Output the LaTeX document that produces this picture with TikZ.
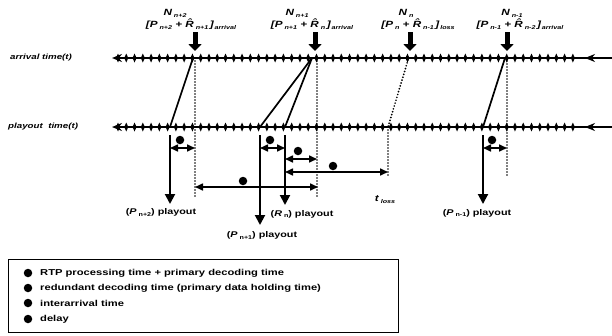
\documentclass[tikz,border=0pt]{standalone}
\usepackage{fontspec}
\setmainfont{Liberation Sans}
\newfontfamily\wf[FakeStretch=1.3]{Liberation Sans}
\usetikzlibrary{arrows.meta}
\newcommand\lsub[1]{\raisebox{-0.45ex}{\fontsize{5.5}{6}\selectfont #1}}
\newcommand\ttick[2]{\fill (#1-2,#2) -- (#1,#2-4.5) -- (#1+2,#2) -- (#1,#2+4.5) -- cycle;}
\begin{document}
\begin{tikzpicture}[x=1pt,y=-1pt,
  axisline/.style={line width=1.6pt,-{Stealth[length=10pt,width=8pt]}},
  bigarrow/.style={line width=5pt,-{Triangle[width=13pt,length=7pt]}},
  slant/.style={line width=1.7pt},
  dotline/.style={line width=1.9pt,line cap=round,dash pattern=on 0pt off 3pt},
  dimarrow/.style={line width=1.6pt,{Triangle[width=7pt,length=8pt]}-{Triangle[width=7pt,length=8pt]}},
  droparrow/.style={line width=2pt,-{Triangle[width=10pt,length=10pt]}},
  bigdot/.style={circle,fill,inner sep=0pt,minimum size=8.5pt},
  axlabel/.style={font=\wf\bfseries\itshape\fontsize{7.5}{8}\selectfont,anchor=west,inner sep=0pt},
  toplabel/.style={font=\wf\bfseries\itshape\fontsize{9}{10}\selectfont,inner sep=0pt},
  plabel/.style={font=\wf\bfseries\fontsize{8.3}{9}\selectfont,inner sep=0pt},
  legtext/.style={font=\wf\bfseries\fontsize{8.6}{9}\selectfont,anchor=west,inner sep=0pt}
]
\useasboundingbox (0,0) rectangle (612,335);

% axis lines
\coordinate (arrR) at (612,58); \coordinate (arrL) at (112,58);
\coordinate (plyR) at (612,127); \coordinate (plyL) at (112,127);
\draw[axisline] (arrR) -- (arrL);
\draw[axisline] (plyR) -- (plyL);
\coordinate (arrM1) at (600,58); \coordinate (arrM2) at (585,58);
\coordinate (plyM1) at (600,127); \coordinate (plyM2) at (585,127);
\draw[axisline] (arrM1) -- (arrM2);
\draw[axisline] (plyM1) -- (plyM2);
\foreach \i in {0,...,55}{
  \pgfmathsetmacro\xx{118+\i*8.27}
  \ttick{\xx}{58}
  \ttick{\xx}{127}
}
\node[axlabel] (lblarr) at (10,58) {arrival time(t)};
\node[axlabel] (lblply) at (8,127) {playout\ \ time(t)};

% top labels and arrows
\node[toplabel] (n1) at (175,13) {N\lsub{\ n+2}};
\node[toplabel] (b1) at (191,24) {[P\lsub{\ n+2} + \^{R}\lsub{\ n+1}\,]\lsub{\,arrival}};
\node[toplabel] (n2) at (297,13) {N\lsub{\ n+1}};
\node[toplabel] (b2) at (312,24) {[P\lsub{\ n+1} + \^{R}\lsub{\ n}\,]\lsub{\,arrival}};
\node[toplabel] (n3) at (406,13) {N\lsub{\ n}};
\node[toplabel] (b3) at (418,24) {[P\lsub{\ n} + \^{R}\lsub{\ n-1}\,]\lsub{\,loss}};
\node[toplabel] (n4) at (512,13) {N\lsub{\ n-1}};
\node[toplabel] (b4) at (520,24) {[P\lsub{\ n-1} + \^{R}\lsub{\ n-2}\,]\lsub{\,arrival}};
\foreach \x/\n in {195/1,315/2,410/3,507/4}{
  \coordinate (bt\n) at (\x,32);
  \coordinate (bb\n) at (\x,51);
  \draw[bigarrow] (bt\n) -- (bb\n);
}

% arrival/playout points
\coordinate (s1t) at (193,58); \coordinate (s1b) at (170,127);
\coordinate (s2t) at (312,58); \coordinate (s2a) at (260,127); \coordinate (s2b) at (285,127);
\coordinate (s3t) at (408,60); \coordinate (s3b) at (388,127);
\coordinate (s4t) at (505,58); \coordinate (s4b) at (483,127);
\draw[slant] (s1t) -- (s1b);
\draw[slant] (s2t) -- (s2a);
\draw[slant] (s2t) -- (s2b);
\draw[dotline] (s3t) -- (s3b);
\draw[slant] (s4t) -- (s4b);

% dotted verticals
\coordinate (d1t) at (195,58); \coordinate (d1b) at (195,198);
\coordinate (d2t) at (317,58); \coordinate (d2b) at (317,198);
\coordinate (d3b) at (388,177);
\coordinate (d4t) at (507,58); \coordinate (d4b) at (507,177);
\draw[dotline] (d1t) -- (d1b);
\draw[dotline] (d2t) -- (d2b);
\draw[dotline] (s3b) -- (d3b);
\draw[dotline] (d4t) -- (d4b);

% drop arrows
\coordinate (v1t) at (170,135); \coordinate (v1b) at (170,204);
\coordinate (v2t) at (260,135); \coordinate (v2b) at (260,225);
\coordinate (v3t) at (285,135); \coordinate (v3b) at (285,205);
\coordinate (v4t) at (483,135); \coordinate (v4b) at (483,204);
\draw[droparrow] (v1t) -- (v1b);
\draw[droparrow] (v2t) -- (v2b);
\draw[droparrow] (v3t) -- (v3b);
\draw[droparrow] (v4t) -- (v4b);

% dimension arrows and dots
\coordinate (m1a) at (170,148); \coordinate (m1b) at (195,148);
\coordinate (m2a) at (260,148); \coordinate (m2b) at (285,148);
\coordinate (m3a) at (285,159); \coordinate (m3b) at (317,159);
\coordinate (m4a) at (285,172); \coordinate (m4b) at (388,172);
\coordinate (m5a) at (195,187); \coordinate (m5b) at (318,187);
\coordinate (m6a) at (483,148); \coordinate (m6b) at (507,148);
\draw[dimarrow] (m1a) -- (m1b);
\draw[dimarrow] (m2a) -- (m2b);
\draw[dimarrow] (m3a) -- (m3b);
\draw[dimarrow] (m4a) -- (m4b);
\draw[dimarrow] (m5a) -- (m5b);
\draw[dimarrow] (m6a) -- (m6b);
\node[bigdot] (k1) at (180,140) {};
\node[bigdot] (k2) at (270,140) {};
\node[bigdot] (k3) at (298,151) {};
\node[bigdot] (k4) at (333,166) {};
\node[bigdot] (k5) at (243,181) {};
\node[bigdot] (k6) at (492,140) {};

% playout labels
\node[plabel] (pl1) at (161,212) {(\textit{P}\lsub{ n+2}) playout};
\node[plabel] (pl2) at (302,214) {(\textit{R}\lsub{ n}) playout};
\node[plabel] (pl3) at (262,235) {(\textit{P}\lsub{ n+1}) playout};
\node[plabel] (pl4) at (477,213) {(\textit{P}\lsub{ n-1}) playout};
\node[toplabel] (tl) at (385,200) {t\lsub{ loss}};

% legend
\node[draw,line width=1.2pt,minimum width=390pt,minimum height=73pt,anchor=north west,inner sep=0pt] (leg) at (8,259) {};
\foreach \y/\t/\n in {273/{RTP processing time + primary decoding time}/1,
                      288/{redundant decoding time (primary data holding time)}/2,
                      303/{interarrival time}/3,
                      319/{delay}/4}{
  \node[bigdot] (ld\n) at (28,\y) {};
  \node[legtext] (lt\n) at (40,\y) {\t};
}
\end{tikzpicture}
\end{document}
